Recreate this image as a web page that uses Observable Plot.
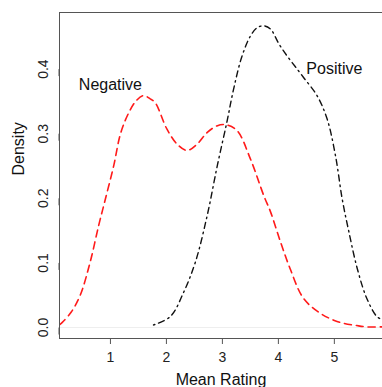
<!DOCTYPE html>
<html>
<head>
<meta charset="utf-8">
<script src="https://cdn.jsdelivr.net/npm/d3@7"></script>
<script src="https://cdn.jsdelivr.net/npm/@observablehq/plot@0.6"></script>
<style>
  html, body { margin: 0; padding: 0; background: #fff; }
  svg { display: block; }
</style>
</head>
<body>
<div id="chart"></div>
<script>
// Negative (red dashed) density curve
const negX = [0.10, 0.14, 0.30, 0.46, 0.64, 0.79, 0.91, 1.06, 1.18, 1.33, 1.46, 1.59, 1.71, 1.80, 2.01, 2.20, 2.37, 2.55, 2.73, 2.90, 3.05, 3.26, 3.50, 3.74, 3.86, 4.04, 4.21, 4.45, 4.75, 5.00, 5.17, 5.40, 5.58, 5.86];
const negY = [0.005, 0.008, 0.024, 0.050, 0.102, 0.158, 0.199, 0.251, 0.300, 0.333, 0.351, 0.359, 0.354, 0.348, 0.307, 0.283, 0.274, 0.284, 0.302, 0.312, 0.314, 0.305, 0.261, 0.204, 0.179, 0.132, 0.091, 0.045, 0.022, 0.011, 0.0065, 0.003, 0.001, 0.001];

// Positive (black dot-dash) density curve
const posX = [1.77, 2.07, 2.31, 2.52, 2.73, 2.91, 3.08, 3.20, 3.35, 3.50, 3.62, 3.74, 3.86, 4.01, 4.15, 4.30, 4.45, 4.69, 4.87, 5.02, 5.14, 5.26, 5.41, 5.58, 5.76, 5.86];
const posY = [0.004, 0.017, 0.055, 0.102, 0.174, 0.251, 0.318, 0.369, 0.420, 0.451, 0.464, 0.467, 0.462, 0.439, 0.421, 0.404, 0.387, 0.359, 0.323, 0.266, 0.199, 0.148, 0.091, 0.045, 0.017, 0.012];

// Annotations
const labelNames = ["Negative", "Positive"];
const labelX = [1.0, 5.0];
const labelY = [0.375, 0.4];

// Axis ticks
const xTicks = [1, 2, 3, 4, 5];
const yTicks = [0.0, 0.1, 0.2, 0.3, 0.4];

const neg = negX.map((x, i) => ({x, y: negY[i]}));
const pos = posX.map((x, i) => ({x, y: posY[i]}));
const labels = labelNames.map((t, i) => ({t, x: labelX[i], y: labelY[i]}));

const font = "'Liberation Sans', Arial, Helvetica, sans-serif";

const chart = Plot.plot({
  width: 382,
  height: 387,
  marginLeft: 59,
  marginTop: 12,
  marginRight: 0,
  marginBottom: 49,
  style: {fontFamily: font, fontSize: "14px", color: "#222", background: "#fff"},
  x: {domain: [0.09, 5.86]},
  y: {domain: [-0.017, 0.4876]},
  marks: [
    Plot.ruleY([0], {stroke: "#eeeeee", strokeWidth: 1}),
    Plot.line(neg, {x: "x", y: "y", curve: "catmull-rom", stroke: "#ff1a1a", strokeWidth: 1.6, strokeDasharray: "7 5"}),
    Plot.line(pos, {x: "x", y: "y", curve: "catmull-rom", stroke: "#111", strokeWidth: 1.4, strokeDasharray: "1.5 4 6 4"}),
    Plot.text(labels, {x: "x", y: "y", text: "t", fontSize: 16, fill: "#111"}),
    Plot.frame({anchor: "left", stroke: "#555"}),
    Plot.frame({anchor: "top", stroke: "#555"}),
    Plot.frame({anchor: "bottom", stroke: "#555"}),
    Plot.axisX({ticks: xTicks, tickSize: 6, tickPadding: 8, fontSize: 14, label: null, stroke: "#555", tickFormat: d => String(d)}),
    Plot.axisY({ticks: yTicks, tickSize: 7, tickPadding: 9, fontSize: 14, label: null, stroke: "#555", rotate: -90, textAnchor: "middle", tickFormat: d => d.toFixed(1)}),
    Plot.text(["Mean Rating"], {frameAnchor: "bottom", dy: 46, fontSize: 16, fill: "#111"}),
    Plot.text(["Density"], {frameAnchor: "left", dx: -41, rotate: -90, fontSize: 16, fill: "#111"})
  ]
});
document.getElementById("chart").appendChild(chart);
</script>
</body>
</html>
